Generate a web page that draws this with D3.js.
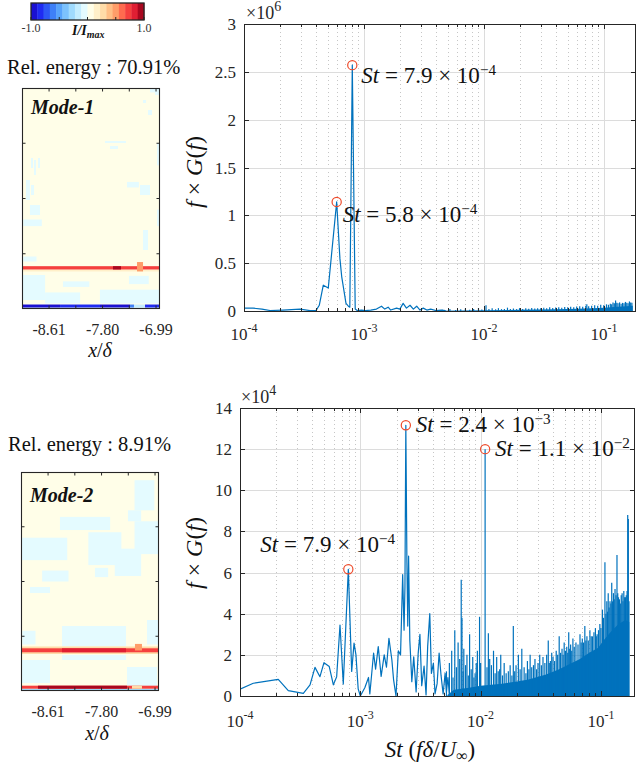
<!DOCTYPE html>
<html><head><meta charset="utf-8">
<script src="https://cdn.jsdelivr.net/npm/d3@7"></script>
<style>body{margin:0;background:#fff}svg{display:block}text{font-family:"Liberation Serif","Times New Roman",serif}</style>
</head><body><svg id="c" width="636" height="765"></svg>
<script>
// ---------------- DATA ----------------
const cbColors = ["#1a10d2","#1f2bf2","#2d57f5","#3e80f8","#58a4fb","#7cc2fd","#a0dbfe","#c4edff","#e4fbff","#fffee8","#fff0c9","#ffdca8","#ffbf86","#ff9d69","#ff6b4f","#f5403e","#e01f33","#a8071f"];
const cbTicks = [-1, -0.5, 0, 0.5, 1];
const cbLabels = [[-1, "-1.0"], [1, "1.0"]];
const modeXDomain = [-9.02, -6.93];
const modeXTicks = [-8.61, -8.205, -7.80, -7.395, -6.99];
const modeXLabels = ["-8.61", "-7.80", "-6.99"];
const modeYTicks = [1, 2, 3];
const modeNames = ["Mode-1", "Mode-2"];
const modeEnergy = ["70.91%", "8.91%"];
const modeBackground = 0.05;
// cells: [x0, x1, y0, y1, value]  (x in x/δ, y in 0..4)
const mode1Cells = [
 [-8.884,-8.853,2.552,2.733,-0.05],[-8.838,-8.808,2.425,2.697,-0.05],[-8.778,-8.747,2.552,2.733,-0.05],
 [-8.96,-8.90,1.973,2.335,-0.05],[-8.90,-8.747,1.701,1.882,-0.05],[-8.884,-8.838,2.063,2.244,-0.05],
 [-9.0,-8.72,1.50,1.62,-0.05],[-9.0,-8.80,0.86,0.95,-0.05],
 [-7.006,-6.93,3.873,4.0,-0.05],[-7.081,-7.006,3.92,4.0,-0.05],[-7.187,-7.141,3.728,3.783,-0.05],
 [-7.112,-7.051,3.511,3.602,-0.05],[-7.763,-7.445,3.005,3.041,-0.05],[-7.687,-7.566,2.896,2.95,-0.05],
 [-7.233,-7.081,2.063,2.244,-0.05],[-7.187,-7.112,1.068,1.43,-0.05],[-7.43,-7.25,2.2,2.3,-0.05],
 [-6.975,-6.93,2.6,3.0,-0.05],[-6.975,-6.93,1.5,1.8,-0.05],
 [-9.02,-8.67,0.163,0.615,-0.05],[-8.67,-8.14,0.10,0.30,-0.05],[-7.84,-6.93,0.10,0.35,-0.05],
 [-8.4,-8.0,0.40,0.50,-0.05],[-7.4,-7.1,0.45,0.60,-0.05],
 [-9.02,-6.93,0.679,0.715,0.2],[-9.02,-6.93,0.715,0.775,0.72],[-7.642,-7.521,0.715,0.775,0.9],
 [-7.278,-7.187,0.68,0.85,0.45],[-7.25,-7.21,0.72,0.80,0.55],
 [-9.02,-6.93,0,0.027,-0.15],
 [-9.02,-8.444,0.027,0.081,-0.95],[-8.444,-7.839,0.027,0.081,-0.8],[-7.839,-7.384,0.027,0.081,-0.9],
 [-7.384,-7.324,0.027,0.081,-0.6],[-7.324,-7.157,0.027,0.081,-0.2],[-7.157,-6.93,0.027,0.081,-0.8]
];
const mode2Cells = [
 [-9.02,-8.32,2.39,2.80,-0.05],[-8.43,-7.67,2.94,3.18,-0.05],[-8.0,-7.5,2.3,2.9,-0.05],
 [-7.6,-7.2,2.1,2.6,-0.05],[-7.3,-6.93,2.5,3.1,-0.05],[-7.9,-7.7,2.08,2.25,-0.05],
 [-7.3,-7.0,3.3,3.85,-0.05],[-7.4,-7.2,3.1,3.3,-0.05],[-8.884,-8.581,1.79,1.9,-0.05],
 [-8.7,-8.3,2.0,2.2,-0.05],
 [-8.399,-7.43,0.813,1.187,-0.05],[-9.0,-8.8,0.85,1.10,-0.05],[-7.112,-6.93,0.85,1.297,-0.05],
 [-9.02,-8.581,0.146,0.566,-0.05],[-8.399,-7.43,0.566,0.658,-0.05],[-7.415,-6.96,0.073,0.438,-0.05],
 [-9.02,-6.93,0.676,0.813,0.3],[-9.02,-6.93,0.707,0.78,0.72],[-8.399,-7.43,0.707,0.78,0.85],
 [-7.294,-7.188,0.74,0.86,0.5],
 [-9.02,-6.93,0,0.042,-0.3],[-9.02,-6.93,0.042,0.097,0.72],[-8.763,-7.415,0.042,0.097,0.9],
 [-7.339,-7.188,0.042,0.097,0.3]
];

const stTicks = [1e-4, 1e-3, 1e-2, 1e-1];
const stTickExp = ["-4", "-3", "-2", "-1"];
const minorMult = [2, 3, 4, 5, 6, 7, 8, 9];
const topYTicks = [0, 0.5, 1, 1.5, 2, 2.5, 3];
const topYLabels = ["0", "0.5", "1", "1.5", "2", "2.5", "3"];
const botYTicks = [0, 2, 4, 6, 8, 10, 12, 14];
const botYLabels = ["0", "2", "4", "6", "8", "10", "12", "14"];

// top spectrum (values ×10^6)
const topLine = [
 [1.0e-4,0.03],[1.19e-4,0.03],[1.41e-4,0.02],[1.65e-4,0.005],[2.11e-4,0.01],[2.93e-4,0.02],[3.55e-4,0.004],
 [3.98e-4,0.004],[4.24e-4,0.06],[4.58e-4,0.27],[5.04e-4,0.24],[5.92e-4,1.14],[6.3e-4,0.55],[6.52e-4,0.36],
 [7.08e-4,0.08],[7.41e-4,0.05],[7.62e-4,0.04],[7.99e-4,2.57],[8.45e-4,0.02],[8.79e-4,0.005],[9.53e-4,0.01],
 [1.03e-3,0.004],[1.14e-3,0.01],[1.27e-3,0.02],[1.40e-3,0.05],[1.49e-3,0.02],[1.59e-3,0.04],[1.67e-3,0.01],
 [1.87e-3,0.03],[1.99e-3,0.02],[2.12e-3,0.08],[2.26e-3,0.03],[2.42e-3,0.06],[2.58e-3,0.02],[2.75e-3,0.05],
 [2.93e-3,0.01],[3.12e-3,0.03],[3.34e-3,0.01],[3.6e-3,0.02],[3.97e-3,0.005],[4.4e-3,0.01],[4.8e-3,0.005]
];
const topCore = [[4.0e-3,0.003],[1e-2,0.008],[2e-2,0.012],[4e-2,0.018],[6e-2,0.024],[8e-2,0.03],[1.0e-1,0.035],[1.3e-1,0.045],[1.55e-1,0.05],[1.74e-1,0.055]];
const topSpikes = [
 [4.5e-3,0.012],[5.2e-3,0.02],[5.8e-3,0.01],[6.4e-3,0.018],[7.0e-3,0.025],[7.6e-3,0.012],[8.2e-3,0.02],[9.0e-3,0.03],
 [9.6e-3,0.015],[1.04e-2,0.06],[1.1e-2,0.02],[1.17e-2,0.028],[1.25e-2,0.018],[1.32e-2,0.03],[1.4e-2,0.02],[1.48e-2,0.022],
 [1.57e-2,0.035],[1.66e-2,0.02],[1.76e-2,0.026],[1.87e-2,0.02],[1.98e-2,0.03],[2.1e-2,0.022],[2.23e-2,0.028],[2.36e-2,0.024],
 [2.5e-2,0.032],[2.65e-2,0.026],[2.8e-2,0.03],[2.97e-2,0.028],[3.15e-2,0.035],[3.33e-2,0.03],[3.53e-2,0.038],[3.74e-2,0.032],
 [3.96e-2,0.036],[4.2e-2,0.04],[4.45e-2,0.035],[4.71e-2,0.042],[4.99e-2,0.038],[5.28e-2,0.045],[5.6e-2,0.04],[5.93e-2,0.048],
 [6.28e-2,0.05],[6.65e-2,0.045],[7.05e-2,0.055],[7.2e-2,0.07],[7.46e-2,0.05],[7.9e-2,0.055],[8.37e-2,0.06],[8.87e-2,0.055],
 [9.4e-2,0.065],[9.95e-2,0.06],[1.05e-1,0.07],[1.09e-1,0.065],[1.13e-1,0.075],[1.16e-1,0.07],[1.19e-1,0.09],[1.22e-1,0.08],
 [1.25e-1,0.11],[1.28e-1,0.085],[1.31e-1,0.08],[1.35e-1,0.09],[1.39e-1,0.075],[1.43e-1,0.085],[1.47e-1,0.08],[1.51e-1,0.095],
 [1.55e-1,0.085],[1.59e-1,0.08],[1.63e-1,0.1],[1.67e-1,0.09],[1.71e-1,0.085]
];
const topMarks = [[7.99e-4,2.57],[5.92e-4,1.14]];
const topNotes = [["7.9","−4"],["5.8","−4"]];

// bottom spectrum (values ×10^4)
const botLine = [
 [1.0e-4,0.33],[1.29e-4,0.62],[2.08e-4,0.81],[2.52e-4,0.26],[3.36e-4,0.13],[3.82e-4,0.54],[4.2e-4,1.39],[4.62e-4,0.94],
 [4.99e-4,1.62],[5.52e-4,1.43],[5.97e-4,0.54],[6.36e-4,0.94],[6.78e-4,3.45],[7.22e-4,0.58],[7.95e-4,6.16],[8.48e-4,1.19],
 [8.87e-4,2.57],[9.2e-4,2.0],[9.6e-4,0.35],[1.0e-3,0.0],[1.09e-3,0.4],[1.17e-3,0.9],[1.2e-3,0.1],[1.29e-3,2.09],
 [1.34e-3,1.3],[1.41e-3,2.4],[1.49e-3,0.95],[1.58e-3,2.0],[1.65e-3,1.4],[1.73e-3,2.8],[1.83e-3,1.75],[1.89e-3,0.8],
 [1.98e-3,0.0],[2.07e-3,2.2],[2.16e-3,2.0],[2.25e-3,5.9],[2.31e-3,3.2],[2.35e-3,5.3],[2.39e-3,13.16],[2.44e-3,6.5],
 [2.48e-3,3.4],[2.52e-3,6.8],[2.58e-3,2.7],[2.68e-3,0.7],[2.78e-3,1.9],[2.91e-3,0.2],[3.03e-3,2.1],[3.13e-3,3.0],
 [3.24e-3,0.5],[3.39e-3,1.45],[3.52e-3,0.05],[3.63e-3,2.4],[3.78e-3,4.0],[3.9e-3,1.1],[4.05e-3,1.6],[4.18e-3,0.1],
 [4.35e-3,0.6],[4.52e-3,2.09],[4.69e-3,1.0],[4.88e-3,0.1],[5.07e-3,1.1],[5.2e-3,0.2],[5.35e-3,0.9],[5.5e-3,0.1]
];
const botCore = [[5.3e-3,0.05],[6e-3,0.3],[8e-3,0.4],[1e-2,0.5],[1.5e-2,0.6],[2e-2,0.7],[2.5e-2,0.8],[3.5e-2,1.05],[4.5e-2,1.3],[5.5e-2,1.55],[6.7e-2,1.8],[8e-2,2.1],[9.5e-2,2.35],[1.05e-1,2.7],[1.2e-1,3.1],[1.4e-1,3.5],[1.6e-1,3.7],[1.72e-1,3.6]];
const botSpikes = [
 [5.2e-3,1.2],[5.5e-3,1.6],[5.75e-3,2.2],[5.9e-3,0.9],[6.1e-3,3.2],[6.3e-3,1.4],[6.5e-3,2.6],[6.7e-3,1.8],[6.9e-3,5.65],
 [7.0e-3,3.8],[7.15e-3,1.2],[7.25e-3,2.3],[7.5e-3,1.5],[7.7e-3,2.0],[7.9e-3,1.0],[8.1e-3,3.0],[8.35e-3,1.3],[8.6e-3,1.9],
 [8.8e-3,0.9],[9.0e-3,1.1],[9.2e-3,1.6],[9.4e-3,2.2],[9.8e-3,3.85],[1.0e-2,1.6],[1.09e-2,12.0],[1.13e-2,1.4],[1.16e-2,3.05],
 [1.19e-2,1.8],[1.23e-2,1.5],[1.28e-2,2.2],[1.32e-2,1.1],[1.36e-2,1.9],[1.40e-2,1.2],[1.44e-2,1.3],[1.47e-2,2.0],[1.52e-2,1.0],
 [1.57e-2,1.6],[1.63e-2,1.1],[1.7e-2,1.2],[1.76e-2,1.5],[1.82e-2,1.0],[1.87e-2,3.4],[1.92e-2,1.2],[1.97e-2,1.5],[2.06e-2,2.0],
 [2.13e-2,1.3],[2.2e-2,2.3],[2.3e-2,1.4],[2.38e-2,1.1],[2.45e-2,1.7],[2.52e-2,1.3],[2.58e-2,2.0],[2.66e-2,1.4],[2.75e-2,1.5],
 [2.83e-2,1.8],[2.92e-2,1.3],[3.0e-2,1.6],[3.1e-2,2.0],[3.2e-2,1.5],[3.3e-2,1.9],[3.42e-2,1.6],[3.54e-2,2.0],[3.65e-2,2.7],
 [3.72e-2,1.6],[3.8e-2,1.7],[3.9e-2,2.1],[4.0e-2,1.9],[4.12e-2,1.7],[4.25e-2,2.2],[4.37e-2,2.0],[4.5e-2,2.9],[4.62e-2,2.1],
 [4.75e-2,2.3],[4.85e-2,2.0],[4.95e-2,2.6],[5.07e-2,2.2],[5.2e-2,2.4],[5.3e-2,2.1],[5.4e-2,3.1],[5.5e-2,2.3],[5.6e-2,2.5],
 [5.72e-2,2.2],[5.85e-2,2.8],[6.0e-2,2.4],[6.2e-2,2.6],[6.45e-2,2.5],[6.7e-2,3.0],[6.85e-2,2.6],[7.0e-2,2.8],[7.17e-2,2.6],
 [7.35e-2,3.4],[7.5e-2,2.7],[7.65e-2,2.9],[7.85e-2,2.7],[8.1e-2,3.2],[8.3e-2,2.9],[8.5e-2,2.9],[8.75e-2,3.1],[9.0e-2,3.3],
 [9.15e-2,2.9],[9.3e-2,3.0],[9.55e-2,3.2],[9.8e-2,3.5],[1.0e-1,3.3],[1.03e-1,4.2],[1.05e-1,3.8],[1.08e-1,6.5],[1.10e-1,4.0],
 [1.12e-1,4.6],[1.135e-1,4.1],[1.15e-1,5.0],[1.17e-1,4.3],[1.19e-1,4.6],[1.21e-1,4.5],[1.23e-1,5.5],[1.25e-1,4.6],[1.27e-1,5.0],
 [1.29e-1,4.7],[1.31e-1,5.2],[1.335e-1,4.9],[1.36e-1,6.85],[1.38e-1,5.0],[1.40e-1,4.8],[1.425e-1,4.7],[1.45e-1,4.5],[1.475e-1,4.9],
 [1.50e-1,5.0],[1.525e-1,4.6],[1.55e-1,5.1],[1.575e-1,4.8],[1.60e-1,4.8],[1.625e-1,4.9],[1.65e-1,5.1],[1.67e-1,8.8],[1.69e-1,8.6],[1.71e-1,4.6]
];
const botMarks = [[2.39e-3,13.16],[1.09e-2,12.0],[7.95e-4,6.16]];
const botNotes = [["2.4","−3"],["1.1","−2"],["7.9","−4"]];

// ---------------- DRAWING ----------------
const svg = d3.select("#c");
const INK = "#262626";
const LINE = "#0072bd";
const MARK = "#ee4a2a";
const cmap = d3.scaleQuantize().domain([-1, 1]).range(cbColors);

// colorbar
(function(){
  const cx = d3.scaleLinear().domain([-1, 1]).range([31, 144]);
  const n = cbColors.length, step = 2 / n;
  const g = svg.append("g");
  g.selectAll("rect.b").data(cbColors).join("rect")
    .attr("x", (d, i) => cx(-1 + i * step)).attr("y", 3)
    .attr("width", (d, i) => cx(-1 + (i + 1) * step) - cx(-1 + i * step) + 0.4).attr("height", 17)
    .attr("fill", d => d);
  g.append("rect").attr("x", 31).attr("y", 3).attr("width", 113).attr("height", 17)
    .attr("fill", "none").attr("stroke", INK).attr("stroke-width", 1.3);
  g.selectAll("line.t").data(cbTicks).join("line")
    .attr("x1", d => cx(d)).attr("x2", d => cx(d)).attr("y1", 20).attr("y2", 17)
    .attr("stroke", INK).attr("stroke-width", 1);
  g.selectAll("text.l").data(cbLabels).join("text")
    .attr("x", d => cx(d[0])).attr("y", 32).attr("text-anchor", "middle")
    .attr("font-size", 12).attr("fill", "#333").text(d => d[1]);
  const t = g.append("text").attr("x", 72).attr("y", 35).attr("font-size", 14)
    .attr("font-weight", "bold").attr("font-style", "italic").attr("fill", "#111");
  t.append("tspan").text("I/I");
  t.append("tspan").attr("font-size", 10).attr("dy", 2.5).text("max");
})();

function drawMode(cells, cfg) {
  const g = svg.append("g");
  const x = d3.scaleLinear().domain(modeXDomain).range([cfg.left, cfg.right]);
  const y = d3.scaleLinear().domain([0, 4]).range([cfg.bottom, cfg.top]);
  g.append("text").attr("x", cfg.energyX).attr("y", cfg.energyY).attr("font-size", 20.5).attr("fill", "#111")
    .text("Rel. energy : " + cfg.energy);
  g.append("rect").attr("x", cfg.left).attr("y", cfg.top).attr("width", cfg.right - cfg.left)
    .attr("height", cfg.bottom - cfg.top).attr("fill", cmap(modeBackground));
  g.selectAll("rect.c").data(cells).join("rect")
    .attr("x", d => x(d[0])).attr("width", d => x(d[1]) - x(d[0]))
    .attr("y", d => y(d[3])).attr("height", d => y(d[2]) - y(d[3]))
    .attr("fill", d => cmap(d[4]));
  g.append("rect").attr("x", cfg.left + 0.5).attr("y", cfg.top + 0.5).attr("width", cfg.right - cfg.left - 1)
    .attr("height", cfg.bottom - cfg.top - 1).attr("fill", "none").attr("stroke", INK).attr("stroke-width", 1.1);
  modeXTicks.forEach(v => {
    g.append("line").attr("x1", x(v)).attr("x2", x(v)).attr("y1", cfg.top).attr("y2", cfg.top + 3.5).attr("stroke", INK);
    g.append("line").attr("x1", x(v)).attr("x2", x(v)).attr("y1", cfg.bottom).attr("y2", cfg.bottom - 3.5).attr("stroke", INK);
  });
  modeYTicks.forEach(v => {
    g.append("line").attr("x1", cfg.left).attr("x2", cfg.left + 3.5).attr("y1", y(v)).attr("y2", y(v)).attr("stroke", INK);
    g.append("line").attr("x1", cfg.right).attr("x2", cfg.right - 3.5).attr("y1", y(v)).attr("y2", y(v)).attr("stroke", INK);
  });
  modeXLabels.forEach(s => {
    g.append("text").attr("x", x(+s)).attr("y", cfg.tickY).attr("text-anchor", "middle")
      .attr("font-size", 16).attr("fill", INK).text(s);
  });
  const xl = g.append("text").attr("x", cfg.xlabX).attr("y", cfg.xlabY).attr("text-anchor", "middle")
    .attr("font-size", 20).attr("fill", "#111");
  xl.append("tspan").attr("font-style", "italic").text("x");
  xl.append("tspan").text("/");
  xl.append("tspan").attr("font-style", "italic").text("δ");
  g.append("text").attr("x", cfg.left + 9).attr("y", cfg.labelY).attr("font-size", 20)
    .attr("font-weight", "bold").attr("font-style", "italic").attr("fill", "#111").text(cfg.name);
}

drawMode(mode1Cells, {left: 22, right: 160, top: 88, bottom: 309, energy: modeEnergy[0], energyX: 7, energyY: 74,
  name: modeNames[0], labelY: 114, tickY: 335, xlabX: 100, xlabY: 357});
drawMode(mode2Cells, {left: 21, right: 159, top: 472, bottom: 691, energy: modeEnergy[1], energyX: 8, energyY: 451,
  name: modeNames[1], labelY: 502, tickY: 717, xlabX: 97, xlabY: 740});

function mathNote(g, px, py, mant, exp, size) {
  const t = g.append("text").attr("x", px).attr("y", py).attr("font-size", size).attr("fill", "#111");
  t.append("tspan").attr("font-style", "italic").text("St");
  t.append("tspan").text(" = " + mant + " × 10");
  t.append("tspan").attr("font-size", size * 0.66).attr("dy", -size * 0.36).text(exp);
}

function yLabel(g, cx, cy) {
  const t = g.append("text").attr("transform", `translate(${cx},${cy}) rotate(-90)`)
    .attr("text-anchor", "middle").attr("font-size", 24).attr("fill", "#111");
  t.append("tspan").attr("font-style", "italic").text("f");
  t.append("tspan").text(" × ");
  t.append("tspan").attr("font-style", "italic").text("G");
  t.append("tspan").text("(");
  t.append("tspan").attr("font-style", "italic").text("f");
  t.append("tspan").text(")");
}

function drawSpectrum(c) {
  const g = svg.append("g");
  const x = d3.scaleLog().domain(c.xDomain).range([c.left, c.right]);
  const y = d3.scaleLinear().domain([0, c.yMax]).range([c.bottom, c.top]);
  const minor = [];
  stTicks.forEach(d => minorMult.forEach(m => { const v = m * d; if (v > c.xDomain[0] && v < c.xDomain[1]) minor.push(v); }));
  const px = v => Math.round(x(v)) + 0.5, py = v => Math.round(y(v)) + 0.5;
  // grid
  g.selectAll("line.mg").data(minor).join("line")
    .attr("x1", px).attr("x2", px).attr("y1", c.top).attr("y2", c.bottom)
    .attr("stroke", "#c6c6c6").attr("stroke-width", 1).attr("stroke-dasharray", "1,3");
  g.selectAll("line.gx").data(stTicks.slice(1)).join("line")
    .attr("x1", px).attr("x2", px).attr("y1", c.top).attr("y2", c.bottom)
    .attr("stroke", "#dcdcdc").attr("stroke-width", 1);
  g.selectAll("line.gy").data(c.yTicks.slice(1, -1)).join("line")
    .attr("x1", c.left).attr("x2", c.right).attr("y1", py).attr("y2", py)
    .attr("stroke", "#dcdcdc").attr("stroke-width", 1);
  // data
  const clipId = "clip" + c.id;
  svg.append("clipPath").attr("id", clipId).append("rect")
    .attr("x", c.left).attr("y", c.top - 2).attr("width", c.right - c.left).attr("height", c.bottom - c.top + 2);
  const dg = g.append("g").attr("clip-path", `url(#${clipId})`);
  dg.append("path").datum(c.core)
    .attr("d", d3.area().x(d => x(d[0])).y0(y(0)).y1(d => y(d[1])))
    .attr("fill", LINE);
  dg.selectAll("line.sp").data(c.spikes).join("line")
    .attr("x1", d => x(d[0])).attr("x2", d => x(d[0])).attr("y1", y(0)).attr("y2", d => y(d[1]))
    .attr("stroke", LINE).attr("stroke-width", 1.2);
  dg.append("path").datum(c.line)
    .attr("d", d3.line().x(d => x(d[0])).y(d => y(d[1])))
    .attr("fill", "none").attr("stroke", LINE).attr("stroke-width", 1.2).attr("stroke-linejoin", "round");
  // axes box
  g.append("rect").attr("x", c.left + 0.5).attr("y", Math.round(c.top) + 0.5)
    .attr("width", c.right - c.left - 1).attr("height", Math.round(c.bottom) - Math.round(c.top))
    .attr("fill", "none").attr("stroke", INK).attr("stroke-width", 1);
  // ticks
  stTicks.forEach(v => {
    g.append("line").attr("x1", px(v)).attr("x2", px(v)).attr("y1", c.bottom).attr("y2", c.bottom - 5).attr("stroke", INK);
    g.append("line").attr("x1", px(v)).attr("x2", px(v)).attr("y1", c.top).attr("y2", c.top + 5).attr("stroke", INK);
  });
  minor.forEach(v => {
    g.append("line").attr("x1", px(v)).attr("x2", px(v)).attr("y1", c.bottom).attr("y2", c.bottom - 3).attr("stroke", INK);
    g.append("line").attr("x1", px(v)).attr("x2", px(v)).attr("y1", c.top).attr("y2", c.top + 3).attr("stroke", INK);
  });
  c.yTicks.forEach(v => {
    g.append("line").attr("x1", c.left).attr("x2", c.left + 5).attr("y1", py(v)).attr("y2", py(v)).attr("stroke", INK);
    g.append("line").attr("x1", c.right).attr("x2", c.right - 5).attr("y1", py(v)).attr("y2", py(v)).attr("stroke", INK);
  });
  // tick labels
  stTicks.forEach((v, i) => {
    const t = g.append("text").attr("x", x(v)).attr("y", c.xLabY).attr("text-anchor", "middle")
      .attr("font-size", 17).attr("fill", INK);
    t.append("tspan").text("10");
    t.append("tspan").attr("font-size", 12).attr("dy", -8).text(stTickExp[i]);
  });
  c.yTicks.forEach((v, i) => {
    g.append("text").attr("x", c.left - 8).attr("y", y(v) + 6).attr("text-anchor", "end")
      .attr("font-size", 17).attr("fill", INK).text(c.yLabels[i]);
  });
  const e = g.append("text").attr("x", c.left + c.expDx).attr("y", c.top - c.expDy).attr("font-size", 18).attr("fill", INK);
  e.append("tspan").text("×10");
  e.append("tspan").attr("font-size", 14).attr("dy", -8).text(c.exp);
  // markers & notes
  g.selectAll("circle.m").data(c.marks).join("circle")
    .attr("cx", d => x(d[0])).attr("cy", d => y(d[1])).attr("r", 4.6)
    .attr("fill", "none").attr("stroke", MARK).attr("stroke-width", 1.2);
  c.marks.forEach((m, i) => {
    mathNote(g, x(m[0]) + c.noteOff[i][0], y(m[1]) + c.noteOff[i][1], c.notes[i][0], c.notes[i][1], 23);
  });
  yLabel(g, c.yLabX, c.yLabY);
  return {x, y, g};
}

drawSpectrum({id: "t", left: 244, right: 636, top: 24, bottom: 311, xDomain: [1e-4, 0.185], yMax: 3,
  yTicks: topYTicks, yLabels: topYLabels, exp: "6", expDx: 2, expDy: 5, xLabY: 340,
  line: topLine, core: topCore, spikes: topSpikes, marks: topMarks, notes: topNotes,
  noteOff: [[9, 18], [6, 20]], yLabX: 202, yLabY: 172});

drawSpectrum({id: "b", left: 240, right: 635, top: 408, bottom: 696, xDomain: [1e-4, 0.192], yMax: 14,
  yTicks: botYTicks, yLabels: botYLabels, exp: "4", expDx: 1, expDy: 5, xLabY: 727,
  line: botLine, core: botCore, spikes: botSpikes, marks: botMarks, notes: botNotes,
  noteOff: [[10, 7], [10, 7], [-88, -17]], yLabX: 202, yLabY: 553});

// x label
(function(){
  const t = svg.append("text").attr("x", 430).attr("y", 757).attr("text-anchor", "middle")
    .attr("font-size", 23).attr("fill", "#111");
  t.append("tspan").attr("font-style", "italic").text("St");
  t.append("tspan").text(" (");
  t.append("tspan").attr("font-style", "italic").text("fδ");
  t.append("tspan").text("/");
  t.append("tspan").attr("font-style", "italic").text("U");
  t.append("tspan").attr("font-size", 16).attr("dy", 4).text("∞");
  t.append("tspan").attr("dy", -4).text(")");
})();
</script></body></html>
